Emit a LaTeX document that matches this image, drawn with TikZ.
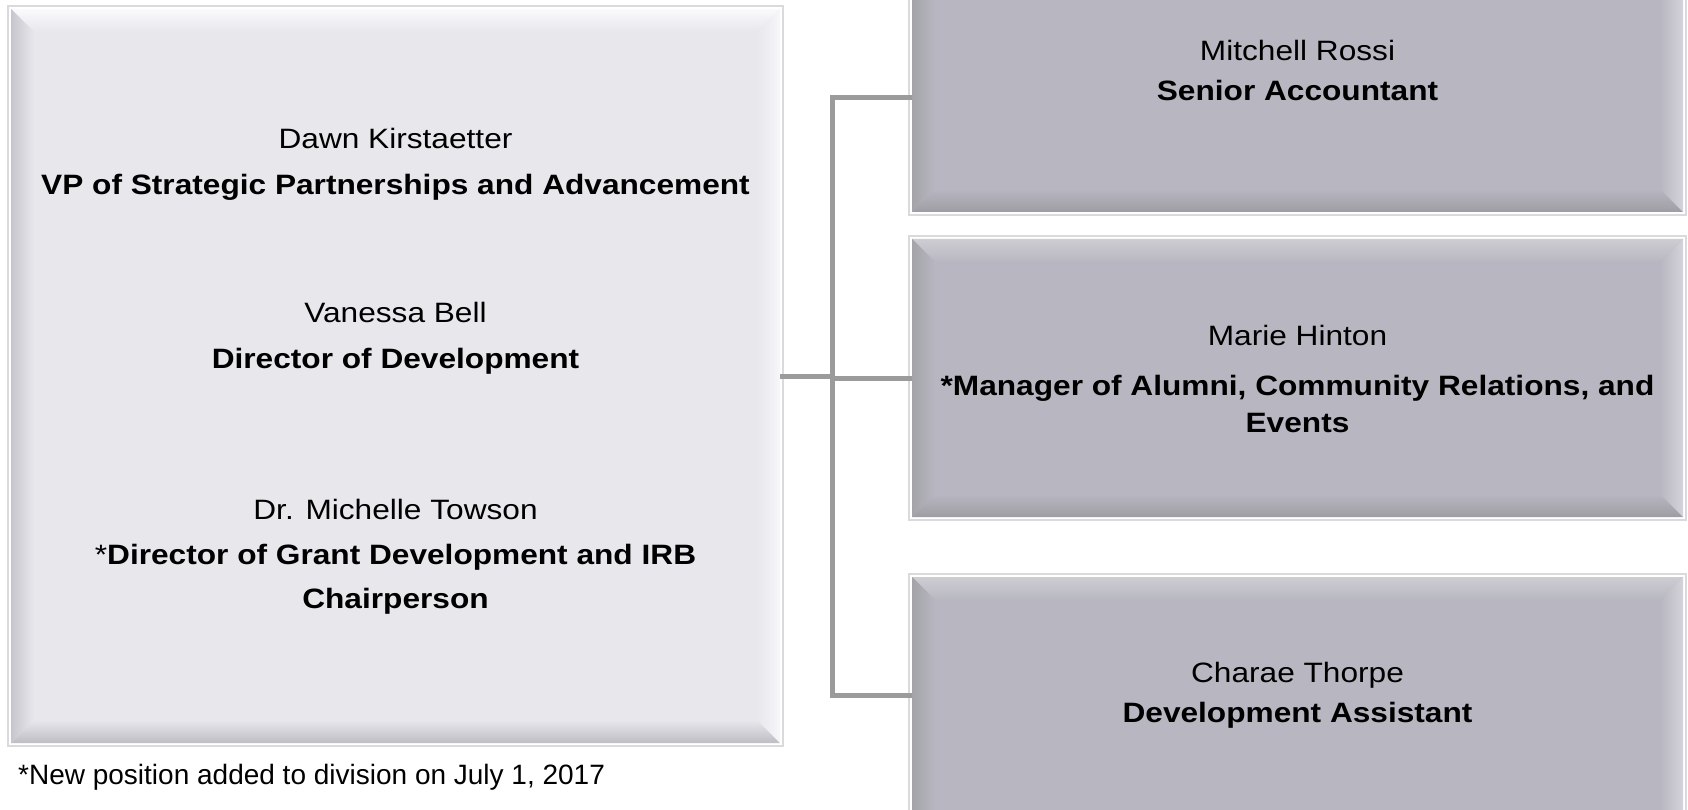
\documentclass[tikz,border=0pt]{standalone}
\usepackage{fontspec}
\setmainfont{Liberation Sans}
\newfontfamily\widesans{Liberation Sans}[FakeStretch=1.13]
\usetikzlibrary{calc}

% palette
\definecolor{leadface}{HTML}{E7E7EC}
\definecolor{leadtop}{HTML}{FAFAFD}
\definecolor{leadleft}{HTML}{C6C6CC}
\definecolor{leadbottom}{HTML}{BDBDC4}
\definecolor{leadright}{HTML}{F7F7FA}
\definecolor{staffface}{HTML}{B8B7C1}
\definecolor{stafftop}{HTML}{CDCDD3}
\definecolor{staffleft}{HTML}{A3A3A8}
\definecolor{staffbottom}{HTML}{9D9DA3}
\definecolor{staffright}{HTML}{D3D3D9}
\definecolor{framegray}{HTML}{DADADC}
\definecolor{linkgray}{HTML}{9B9B9B}

\newcommand\bv{23}
% bevelled panel painted over a (textless) node: #1 node, #2 face, #3 top, #4 left, #5 bottom, #6 right
\newcommand\bevelpanel[6]{%
  \draw[framegray, line width=1.5pt]
    ($(#1.north west)+(-3,-3)$) rectangle ($(#1.south east)+(3,3)$);
  \fill[#2] (#1.north west) rectangle (#1.south east);
  \shade[top color=#3, bottom color=#2]
    (#1.north west) -- (#1.north east) -- ($(#1.north east)+(-\bv,\bv)$)
    -- ($(#1.north west)+(\bv,\bv)$) -- cycle;
  \shade[left color=#4, right color=#2]
    (#1.north west) -- ($(#1.north west)+(\bv,\bv)$)
    -- ($(#1.south west)+(\bv,-\bv)$) -- (#1.south west) -- cycle;
  \shade[top color=#2, bottom color=#5]
    (#1.south west) -- ($(#1.south west)+(\bv,-\bv)$)
    -- ($(#1.south east)+(-\bv,-\bv)$) -- (#1.south east) -- cycle;
  \shade[left color=#2, right color=#6]
    (#1.north east) -- (#1.south east) -- ($(#1.south east)+(-\bv,-\bv)$)
    -- ($(#1.north east)+(-\bv,\bv)$) -- cycle;
}

\tikzset{
  panel/.style={rectangle, inner sep=0pt, outer sep=0pt},
  leadpanel/.style={panel, minimum width=769pt, minimum height=734pt},
  staffpanel/.style={panel, minimum width=771pt, minimum height=278pt},
  person/.style={align=center, inner sep=0pt, text=black,
    font=\widesans\fontsize{28}{46}\selectfont},
  staffperson/.style={person, font=\widesans\fontsize{28}{40}\selectfont},
  note/.style={anchor=west, inner sep=0pt, text=black,
    font=\fontsize{28}{34}\selectfont},
  conn/.style={draw=linkgray, line width=5pt, line join=miter},
}

\begin{document}
\begin{tikzpicture}[x=1pt, y=-1pt]
\useasboundingbox (0,0) rectangle (1688,810);
\clip (0,0) rectangle (1688,810);
\fill[white] (0,0) rectangle (1688,810);

% panels
\node[leadpanel]  (lead) at (395.5,376) {};
\node[staffpanel] (acct) at (1297.5,73) {};
\node[staffpanel] (alum) at (1297.5,378) {};
\node[staffpanel] (asst) at (1297.5,716) {};

\bevelpanel{lead}{leadface}{leadtop}{leadleft}{leadbottom}{leadright}
\bevelpanel{acct}{staffface}{stafftop}{staffleft}{staffbottom}{staffright}
\bevelpanel{alum}{staffface}{stafftop}{staffleft}{staffbottom}{staffright}
\bevelpanel{asst}{staffface}{stafftop}{staffleft}{staffbottom}{staffright}

% reporting lines
\coordinate (hub)  at (832,376);
\coordinate (top)  at (832,98);
\coordinate (foot) at (832,695);
\draw[conn] (lead.east) -- (hub);
\draw[conn] (top -| acct.west) -- (top) -- (foot) -- (foot -| asst.west);
\draw[conn] (hub |- alum.west) -- (alum.west);

% people
\node[person] (vp) at (395.5,164.5)
  {Dawn Kirstaetter\\ \textbf{VP of Strategic Partnerships and Advancement}};
\node[person] (dev) at (395.5,338)
  {Vanessa Bell\\ \textbf{Director of Development}};
\node[person, font=\widesans\fontsize{28}{45}\selectfont] (grant) at (395.5,557)
  {Dr. Michelle Towson\\ *\textbf{Director of Grant Development and IRB}\\[-1pt] \textbf{Chairperson}};

\node[staffperson] (rossi) at (1297.5,70.5)
  {Mitchell Rossi\\ \textbf{Senior Accountant}};
\node[staffperson] (hinton) at (1297.5,378.5)
  {Marie Hinton\\[10pt] \textbf{*Manager of Alumni, Community Relations, and}\\[-3pt] \textbf{Events}};
\node[staffperson] (thorpe) at (1297.5,695)
  {Charae Thorpe\\ \textbf{Development Assistant}};

\node[note] (footnote) at (18,777) {*New position added to division on July 1, 2017};
\end{tikzpicture}
\end{document}
